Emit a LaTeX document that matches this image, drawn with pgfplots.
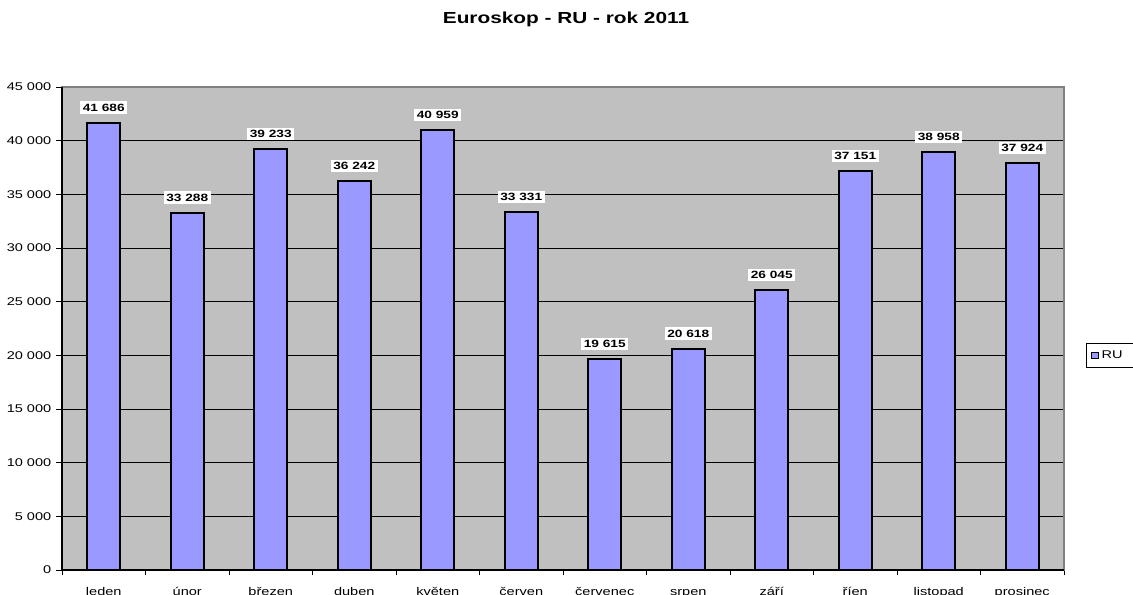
\documentclass[border=0pt]{standalone}
\usepackage{fontspec}
\setmainfont{Liberation Sans}[FakeStretch=1.3]
\usepackage{pgfplots}
\pgfplotsset{compat=1.18}
\definecolor{plotbg}{HTML}{C0C0C0}
\definecolor{barfill}{HTML}{9999FF}
\begin{document}
\begin{tikzpicture}
\begin{axis}[
  at={(46.5pt,18.75pt)}, anchor=south west,
  scale only axis, width=751.5pt, height=362.25pt,
  xmin=0.5, xmax=12.5, ymin=0, ymax=45000,
  ybar, bar width=24.75pt,
  axis background/.style={fill=plotbg},
  axis line style={draw=gray, line width=1pt},
  xtick={1,...,12},
  xticklabels={leden,únor,březen,duben,květen,červen,červenec,srpen,září,říen,listopad,prosinec},
  major x tick style={draw=none},
  minor xtick={0.5,1.5,...,12.5},
  minor x tick style={draw=black, line width=0.6pt},
  minor tick length=4pt,
  tick align=outside,
  xtick pos=bottom, ytick pos=left,
  ytick={0,5000,...,45000},
  major y tick style={draw=black, line width=0.6pt},
  major tick length=4.5pt,
  ymajorgrids, major grid style={draw=black, line width=0.6pt},
  scaled y ticks=false,
  yticklabel style={/pgf/number format/1000 sep={\ }, /pgf/number format/assume math mode=true},
  tick label style={font=\fontsize{8.4pt}{10pt}\selectfont, text=black},
  xticklabel style={yshift=-3.5pt, text height=0.75em, text depth=0.22em},
  nodes near coords,
  nodes near coords style={font=\fontsize{7.9pt}{10pt}\selectfont\bfseries, fill=white, inner sep=1.8pt, yshift=6pt, text=black,
     /pgf/number format/1000 sep={\ }, /pgf/number format/assume math mode=true},
  legend style={at={(1.022,0.444)}, anchor=west, draw=black, line width=0.6pt, font=\fontsize{8.4pt}{10pt}\selectfont, inner sep=3.5pt, text width=38pt},
  legend image code/.code={\draw[fill=barfill, draw=black, line width=0.8pt] (0pt,-2.5pt) rectangle (5pt,2.5pt);},
  clip=false,
]
\addplot[fill=barfill, draw=black, line width=1.5pt, bar shift=0pt] coordinates {
  (1,41686) (2,33288) (3,39233) (4,36242) (5,40959) (6,33331)
  (7,19615) (8,20618) (9,26045) (10,37151) (11,38958) (12,37924)
};
\addlegendentry{RU}
\draw[black, line width=0.8pt] (rel axis cs:0,1) -- (rel axis cs:0,0) -- (rel axis cs:1,0);
\end{axis}
\node[font=\fontsize{12pt}{14pt}\selectfont\bfseries] at (424.5pt,432pt) {Euroskop - RU - rok 2011};
\pgfresetboundingbox
\path[use as bounding box] (0,0) rectangle (849.75pt,446.25pt);
\end{tikzpicture}
\end{document}
